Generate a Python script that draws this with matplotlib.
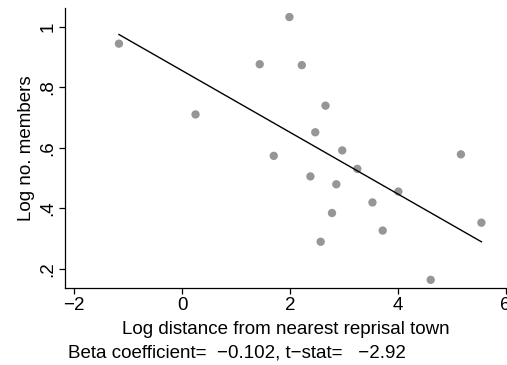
import numpy as np
import matplotlib.pyplot as plt

plt.rcParams['font.family'] = ['Liberation Sans', 'DejaVu Sans']

# log distance from nearest reprisal town
log_dist = [-1.17, 0.25, 1.44, 1.99, 2.22, 1.70, 2.66, 2.47, 2.97, 2.38,
            3.25, 2.86, 4.01, 3.53, 2.78, 3.72, 2.57, 4.61, 5.17, 5.55]
# log number of members
log_members = [0.944, 0.710, 0.876, 1.032, 0.873, 0.573, 0.739, 0.651, 0.591, 0.505,
               0.530, 0.479, 0.455, 0.419, 0.384, 0.326, 0.289, 0.163, 0.578, 0.352]

beta = -0.102
intercept = 0.855
tstat = -2.92

xticks = [-2, 0, 2, 4, 6]
yticks = [0.2, 0.4, 0.6, 0.8, 1.0]
yticklabels = ['.2', '.4', '.6', '.8', '1']

fs = 13.5

fig = plt.figure(figsize=(5.07, 3.65), dpi=100)
ax = fig.add_axes([0.1282, 0.2101, 0.8692, 0.7672])

ax.scatter(log_dist, log_members, s=36, color='#969696', edgecolors='none', zorder=2)

# fitted line
xs = np.array([min(log_dist), max(log_dist)])
ax.plot(xs, intercept + beta * xs, color='black', lw=1.0, zorder=3)

ax.set_xlim(-2.17, 6.0)
ax.set_ylim(0.135, 1.061)
ax.set_xticks(xticks)
ax.set_xticklabels([str(t).replace('-', '\u2212') for t in xticks])
ax.set_yticks(yticks)
ax.set_yticklabels(yticklabels, rotation=90, va='center')

ax.spines['top'].set_visible(False)
ax.spines['right'].set_visible(False)
for s in ['left', 'bottom']:
    ax.spines[s].set_linewidth(0.9)
ax.tick_params(direction='out', length=4, width=0.9, labelsize=fs, pad=2)

ax.set_xlabel('Log distance from nearest reprisal town', fontsize=fs, labelpad=5)
ax.set_ylabel('Log no. members', fontsize=fs, labelpad=3)

fig.text(68 / 507, 0.033,
         'Beta coefficient=  \u2212%.3f, t\u2212stat=   \u2212%.2f' % (abs(beta), abs(tstat)),
         fontsize=fs, va='center', ha='left')

fig.savefig('out.png', dpi=100)
